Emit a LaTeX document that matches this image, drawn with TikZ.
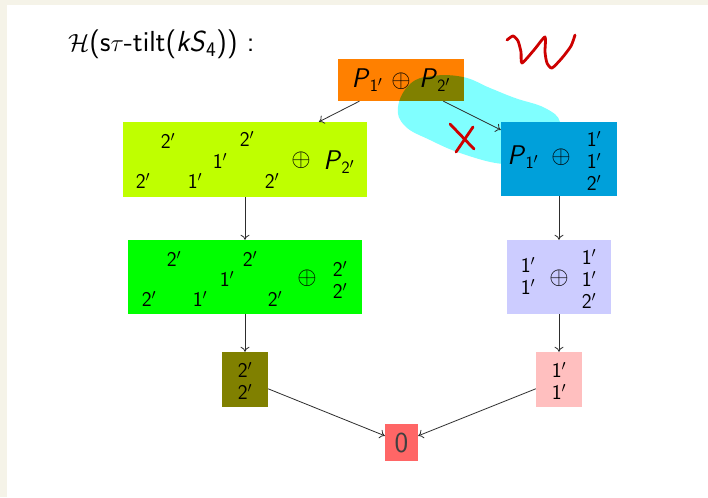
\documentclass[tikz,border=0pt]{standalone}
\usepackage{amsmath}
\usetikzlibrary{arrows.meta,backgrounds}
\renewcommand\familydefault{\sfdefault}
\definecolor{bg}{RGB}{245,243,232}
\definecolor{cOrange}{RGB}{255,128,0}
\definecolor{cLime}{RGB}{191,255,0}
\definecolor{cGreen}{RGB}{0,255,0}
\definecolor{cBlue}{RGB}{0,160,218}
\definecolor{cLav}{RGB}{204,204,255}
\definecolor{cOlive}{RGB}{128,128,0}
\definecolor{cPink}{RGB}{255,191,191}
\definecolor{cZero}{RGB}{255,102,102}
\definecolor{cBlob}{RGB}{128,255,255}
\definecolor{cInk}{RGB}{205,0,0}
\definecolor{cLine}{RGB}{45,45,45}
\newcommand\Pd[1]{\textit{P}$_{\mathsf{#1}'}$}
\newcommand\dg[1]{#1$'$}
\newcommand\op{$\oplus$}
\newcommand\bigf{\fontsize{27}{31}\selectfont}
\newcommand\digf{\fontsize{21}{22}\selectfont}
\tikzset{
  box/.style={rectangle, inner sep=0pt, text=black},
  lab/.style={inner sep=0pt, font=\digf},
  biglab/.style={inner sep=0pt, font=\bigf},
  stack/.style={inner sep=0pt, font=\digf, align=center},
  conn/.style={draw=cLine, line width=0.8pt, -{To[length=5pt,width=9pt]}},
  ink/.style={draw=cInk, line width=2.8pt, line cap=round, line join=round}
}
\begin{document}
\begin{tikzpicture}[x=1pt,y=-1pt]
\useasboundingbox (0,0) rectangle (708,497);
% boxes
\node[box, minimum width=126pt, minimum height=42pt, font=\bigf] (o) at (401,80) {\Pd{1} \op\ \Pd{2}};
\node[box, fill=cLime, minimum width=244pt, minimum height=75pt] (l) at (245,159.5) {};
\node[box, fill=cBlue, minimum width=116pt, minimum height=74pt] (b) at (559,159) {};
\node[box, fill=cGreen, minimum width=234pt, minimum height=74pt] (g) at (245,277) {};
\node[box, fill=cLav, minimum width=104pt, minimum height=74pt] (v) at (559,277) {};
\node[box, fill=cOlive, minimum width=46pt, minimum height=55pt] (ol) at (245,379.5) {};
\node[box, fill=cPink, minimum width=46pt, minimum height=55pt] (pk) at (559,379.5) {};
\node[box, fill=cZero, minimum width=33pt, minimum height=37pt, font=\fontsize{29}{31}\selectfont, text=black!75] (z) at (401.5,442.5) {0};
% title
\node[inner sep=0pt, anchor=west, font=\fontsize{29}{33}\selectfont] (t) at (68,44) {$\mathcal{H}$(s$\tau$-tilt(\textit{kS}$_{\mathsf{4}}$)) :};
% lime contents
\node[lab] (l1) at (168,141) {\dg{2}};
\node[lab] (l2) at (247,139) {\dg{2}};
\node[lab] (l3) at (220,161) {\dg{1}};
\node[lab] (l4) at (143,181) {\dg{2}};
\node[lab] (l5) at (195,181) {\dg{1}};
\node[lab] (l6) at (272,181) {\dg{2}};
\node[biglab] (l7) at (301,160) {\op};
\node[biglab] (l8) at (339,162) {\Pd{2}};
% green contents
\node[lab] (g1) at (174,259) {\dg{2}};
\node[lab] (g2) at (250,259) {\dg{2}};
\node[lab] (g3) at (227,279) {\dg{1}};
\node[lab] (g4) at (149,299) {\dg{2}};
\node[lab] (g5) at (200,299) {\dg{1}};
\node[lab] (g6) at (275,299) {\dg{2}};
\node[biglab] (g7) at (307,278) {\op};
\node[stack] (g8) at (340,280) {\dg{2}\\\dg{2}};
% blue contents
\node[biglab] (b1) at (523,157) {\Pd{1}};
\node[biglab] (b2) at (561,157) {\op};
\node[stack] (b3) at (594,161) {\dg{1}\\\dg{1}\\\dg{2}};
% lavender contents
\node[stack] (v1) at (528,276) {\dg{1}\\\dg{1}};
\node[biglab] (v2) at (559,278) {\op};
\node[stack] (v3) at (589,279) {\dg{1}\\\dg{1}\\\dg{2}};
% small boxes
\node[stack] (ol1) at (245,381) {\dg{2}\\\dg{2}};
\node[stack] (pk1) at (559,381) {\dg{1}\\\dg{1}};
% connectors
\draw[conn] (o) -- (l);
\draw[conn] (o) -- (b);
\draw[conn] (l) -- (g);
\draw[conn] (b) -- (v);
\draw[conn] (g) -- (ol);
\draw[conn] (v) -- (pk);
\draw[conn] (ol) -- (z);
\draw[conn] (pk) -- (z);
% handwriting
\draw[ink] (450,124) -- (474,149);
\draw[ink] (473,127) -- (456,152);
\draw[ink] plot[smooth, tension=0.4] coordinates {(507,40) (513,36) (518,41) (521,52) (522,63) (534,50) (545,37) (545,52) (547,63) (552,68) (562,58) (571,46) (575,35)};
% background layer
\begin{pgfonlayer}{background}
\fill[bg] (0,0) rectangle (708,497);
\fill[white] (7,5) rectangle (708,497);
\fill[cBlob] plot[smooth cycle, tension=0.7] coordinates {(398,107) (410,84) (432,76) (463,77) (490,88) (515,98) (545,108) (560,122) (553,141) (530,160) (503,164) (463,154) (430,140) (405,126)};
\fill[cOrange] (o.south west) rectangle (o.north east);
\begin{scope}
\clip plot[smooth cycle, tension=0.7] coordinates {(398,107) (410,84) (432,76) (463,77) (490,88) (515,98) (545,108) (560,122) (553,141) (530,160) (503,164) (463,154) (430,140) (405,126)};
\fill[cOlive] (o.south west) rectangle (o.north east);
\end{scope}
\end{pgfonlayer}
\end{tikzpicture}
\end{document}
